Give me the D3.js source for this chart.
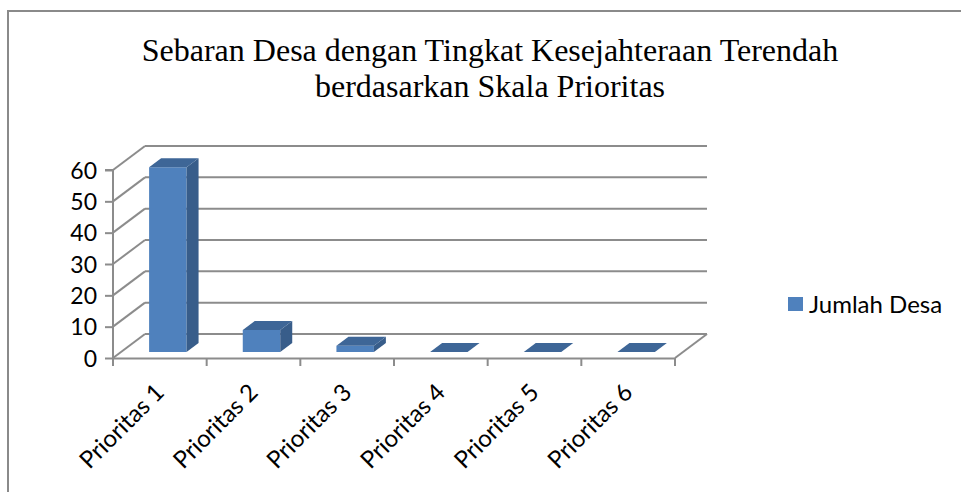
<!DOCTYPE html>
<html>
<head>
<meta charset="utf-8">
<script src="https://cdn.jsdelivr.net/npm/d3@7"></script>
<style>
  html, body { margin: 0; padding: 0; background: #fff; }
  svg { display: block; }
</style>
</head>
<body>
<svg id="chart" width="961" height="492"></svg>
<script>
const titleLines = ["Sebaran Desa dengan Tingkat Kesejahteraan Terendah", "berdasarkan Skala Prioritas"];
const categories = ["Prioritas 1", "Prioritas 2", "Prioritas 3", "Prioritas 4", "Prioritas 5", "Prioritas 6"];
const values = [59, 7, 2, 0, 0, 0];
const yTicks = [0, 10, 20, 30, 40, 50, 60];
const seriesName = "Jumlah Desa";

(function () {
const svg = d3.select("#chart");

svg.append("rect").attr("x", 8).attr("y", 11).attr("width", 1000).attr("height", 600)
  .attr("fill", "#fff").attr("stroke", "#8a8a8a").attr("stroke-width", 2);

const title = svg.append("text").attr("text-anchor", "middle")
  .attr("font-family", "'Liberation Serif', 'Times New Roman', serif")
  .attr("font-size", 32).attr("fill", "#000");
titleLines.forEach((t, i) => {
  title.append("tspan").attr("x", 490).attr("y", 61 + i * 36).text(t);
});

const x = d3.scaleBand().domain(categories).range([113, 675]);
const y = d3.scaleLinear().domain([0, 60]).range([358, 170]);
const depth = [32, -24];
const barOff = [8, -6];
const barDepth = [12, -9];
const gridColor = "#8c8c8c";
const sansFont = "Lato, 'Open Sans', sans-serif";

const g = svg.append("g");

g.selectAll("line.back").data(yTicks).join("line").attr("class", "back")
  .attr("x1", x.range()[0] + depth[0]).attr("x2", x.range()[1] + depth[0])
  .attr("y1", d => y(d) + depth[1]).attr("y2", d => y(d) + depth[1])
  .attr("stroke", gridColor).attr("stroke-width", 2);

g.selectAll("line.side").data(yTicks).join("line").attr("class", "side")
  .attr("x1", x.range()[0]).attr("x2", x.range()[0] + depth[0])
  .attr("y1", d => y(d)).attr("y2", d => y(d) + depth[1])
  .attr("stroke", gridColor).attr("stroke-width", 2);

g.append("line")
  .attr("x1", x.range()[1]).attr("y1", y(0))
  .attr("x2", x.range()[1] + depth[0]).attr("y2", y(0) + depth[1])
  .attr("stroke", gridColor).attr("stroke-width", 2);

const yAxis = d3.axisLeft(y).tickValues(yTicks).tickSize(8).tickPadding(8);
const ya = g.append("g").attr("transform", `translate(${x.range()[0]},0)`).call(yAxis);
ya.select(".domain").attr("d", `M-8,${y(60)}H0V${y(0) + 8}`).attr("fill", "none");
ya.selectAll("path, line").attr("stroke", gridColor).attr("stroke-width", 2);
ya.selectAll("text").attr("font-family", sansFont)
  .attr("font-size", 23).attr("fill", "#000").attr("dy", "0.36em");

const xa = g.append("g").attr("transform", `translate(0,${y(0)})`)
  .call(d3.axisBottom(x).tickSize(0).tickFormat(""));
xa.select(".domain").attr("stroke", gridColor).attr("stroke-width", 2);
const bounds = categories.map(c => x(c)).concat([x.range()[1]]);
xa.selectAll("line.tk").data(bounds).join("line").attr("class", "tk")
  .attr("x1", d => d).attr("x2", d => d).attr("y1", 0).attr("y2", 8)
  .attr("stroke", gridColor).attr("stroke-width", 2);
xa.selectAll("text.lbl").data(categories).join("text").attr("class", "lbl")
  .attr("transform", d => `translate(${x(d) + x.bandwidth() / 2 - 6},${24}) rotate(-45)`)
  .attr("text-anchor", "end").attr("dy", "0.7em")
  .attr("font-family", sansFont).attr("font-size", 24).attr("fill", "#000")
  .text(d => d);

const bw = x.bandwidth() * 0.4;
const frontCol = "#4F81BD", sideCol = "#385D8A", topCol = "#3E6697";
const bars = g.selectAll("g.bar").data(categories.map((c, i) => ({c, v: values[i]}))).join("g").attr("class", "bar");
bars.each(function(d) {
  const gg = d3.select(this);
  const x0 = x(d.c) + (x.bandwidth() - bw) / 2 + barOff[0];
  const x1 = x0 + bw;
  const yb = y(0) + barOff[1];
  const yt = y(d.v) + barOff[1];
  const [dx, dy] = barDepth;
  if (d.v > 0) {
    gg.append("path").attr("d", `M${x0},${yb}L${x0},${yt}L${x1},${yt}L${x1},${yb}Z`).attr("fill", frontCol);
    gg.append("path").attr("d", `M${x1},${yb}L${x1},${yt}L${x1 + dx},${yt + dy}L${x1 + dx},${yb + dy}Z`).attr("fill", sideCol);
  }
  gg.append("path").attr("d", `M${x0},${yt}L${x1},${yt}L${x1 + dx},${yt + dy}L${x0 + dx},${yt + dy}Z`).attr("fill", topCol);
});

const lg = svg.append("g").attr("transform", "translate(788,297)");
lg.append("rect").attr("width", 15).attr("height", 14).attr("fill", frontCol);
lg.append("text").attr("x", 21).attr("y", 7).attr("dy", "0.36em")
  .attr("font-family", sansFont).attr("font-size", 24).attr("fill", "#000")
  .text(seriesName);
})();
</script>
</body>
</html>
